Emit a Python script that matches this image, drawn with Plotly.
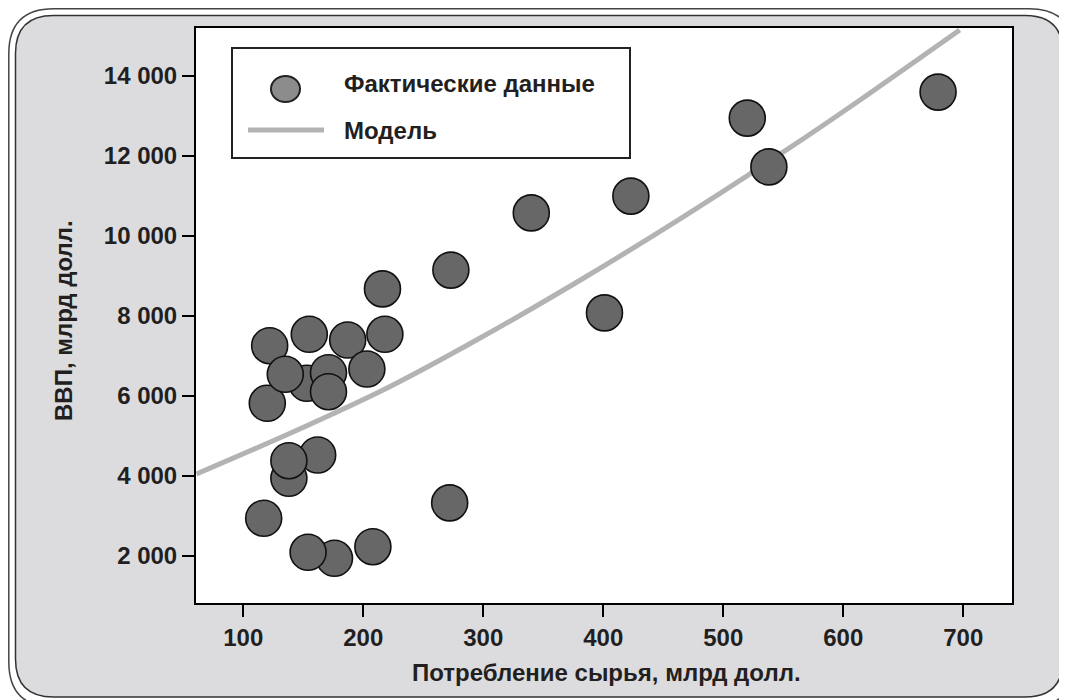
import plotly.graph_objects as go

# ---- data ----
raw_x = [679, 520, 538, 423, 340, 401, 273, 272, 216,
         122, 120, 155, 187, 218, 203, 153, 171, 135, 171,
         138, 162, 138, 117, 176, 154, 208]
raw_y = [13590, 12940, 11720, 10990, 10570, 8070, 9140, 3320, 8670,
         7250, 5810, 7535, 7393, 7535, 6668, 6310, 6575, 6535, 6100,
         3935, 4518, 4375, 2935, 1935, 2085, 2225]

model_x = [61, 139, 222, 297, 381, 464, 553, 614, 697]
model_y = [4043, 5060, 6225, 7435, 8893, 10420, 12150, 13393, 15143]

x_ticks = [100, 200, 300, 400, 500, 600, 700]
x_tick_labels = ["100", "200", "300", "400", "500", "600", "700"]
y_ticks = [2000, 4000, 6000, 8000, 10000, 12000, 14000]
y_tick_labels = ["2 000", "4 000", "6 000", "8 000", "10 000", "12 000", "14 000"]

x_title = "Потребление сырья, млрд долл."
y_title = "ВВП, млрд долл."
legend_labels = ["Фактические данные", "Модель"]

# ---- layout geometry (page pixel coordinates; page body has an 8px margin) ----
OFF = 8
W, H = 1067 - OFF, 700 - OFF
L, R, T, B = 196, 1012, 28, 603
PW, PH = R - L, B - T
FONT = "Liberation Sans, Arial, sans-serif"
TXT = "#231f20"
FS = 24


def px(x):
    return (x - L) / PW


def py(y):
    return (B - y) / PH


def rounded_path(x0, y0, x1, y1, r):
    rx, ry = r / PW, r / PH
    a0, a1 = px(x0), px(x1)
    b0, b1 = py(y0), py(y1)
    return (f"M {a0 + rx} {b0} L {a1 - rx} {b0} Q {a1} {b0} {a1} {b0 - ry} "
            f"L {a1} {b1 + ry} Q {a1} {b1} {a1 - rx} {b1} "
            f"L {a0 + rx} {b1} Q {a0} {b1} {a0} {b1 + ry} "
            f"L {a0} {b0 - ry} Q {a0} {b0} {a0 + rx} {b0} Z")


fig = go.Figure()

fig.add_trace(go.Scatter(
    x=model_x, y=model_y, mode="lines",
    line=dict(color="#b3b3b3", width=5, shape="spline", smoothing=0.8),
    showlegend=False, hoverinfo="skip"))

fig.add_trace(go.Scatter(
    x=raw_x, y=raw_y, mode="markers",
    marker=dict(size=36, color="#676767", line=dict(color="#111111", width=1.6)),
    showlegend=False, cliponaxis=False))

bold = dict(family=FONT, size=FS, color=TXT, weight="bold")

shapes = [
    dict(type="path", xref="paper", yref="paper", layer="below",
         path=rounded_path(8.8, 8.8, 1074, 707, 45),
         line=dict(color="#444444", width=1.5), fillcolor="white"),
    dict(type="path", xref="paper", yref="paper", layer="below",
         path=rounded_path(15.5, 15.5, 1063, 697, 38),
         line=dict(color="#333333", width=1.5), fillcolor="#dcdcde"),
    dict(type="rect", xref="paper", yref="paper", layer="below",
         x0=0, x1=1, y0=0, y1=1, line=dict(width=0), fillcolor="white"),
    dict(type="rect", xref="paper", yref="paper", layer="above",
         x0=px(232), x1=px(630), y0=py(158), y1=py(48),
         line=dict(color="#222222", width=2), fillcolor="white"),
    dict(type="circle", xref="paper", yref="paper", layer="above",
         x0=px(271), x1=px(300), y0=py(102), y1=py(76),
         line=dict(color="#222222", width=2), fillcolor="#8c8c8c"),
    dict(type="line", xref="paper", yref="paper", layer="above",
         x0=px(248), x1=px(324), y0=py(130), y1=py(130),
         line=dict(color="#b3b3b3", width=5)),
]

annotations = [
    dict(text=legend_labels[0], x=px(342), y=py(83), xref="paper", yref="paper",
         xanchor="left", yanchor="middle", showarrow=False, font=bold),
    dict(text=legend_labels[1], x=px(342), y=py(130), xref="paper", yref="paper",
         xanchor="left", yanchor="middle", showarrow=False, font=bold),
    dict(text=x_title, x=px(606), y=py(672), xref="paper", yref="paper",
         xanchor="center", yanchor="middle", showarrow=False, font=bold),
    dict(text=y_title, x=px(63), y=py(321), xref="paper", yref="paper",
         xanchor="center", yanchor="middle", showarrow=False, textangle=-90,
         font=bold),
]

axis_common = dict(showline=True, linecolor="black", linewidth=2, mirror=True,
                   ticks="outside", ticklen=12, tickwidth=2, tickcolor="black",
                   showgrid=False, zeroline=False, tickfont=bold)

fig.update_layout(
    width=W, height=H, autosize=False,
    margin=dict(l=L - OFF, r=W - (R - OFF), t=T - OFF, b=H - (B - OFF), pad=0),
    paper_bgcolor="white", plot_bgcolor="white",
    xaxis=dict(range=[60.6, 740.6], tickvals=x_ticks, ticktext=x_tick_labels, **axis_common),
    yaxis=dict(range=[817.5, 15192.5], tickvals=y_ticks, ticktext=y_tick_labels, **axis_common),
    shapes=shapes, annotations=annotations, showlegend=False,
)

fig.write_html("out.html")
